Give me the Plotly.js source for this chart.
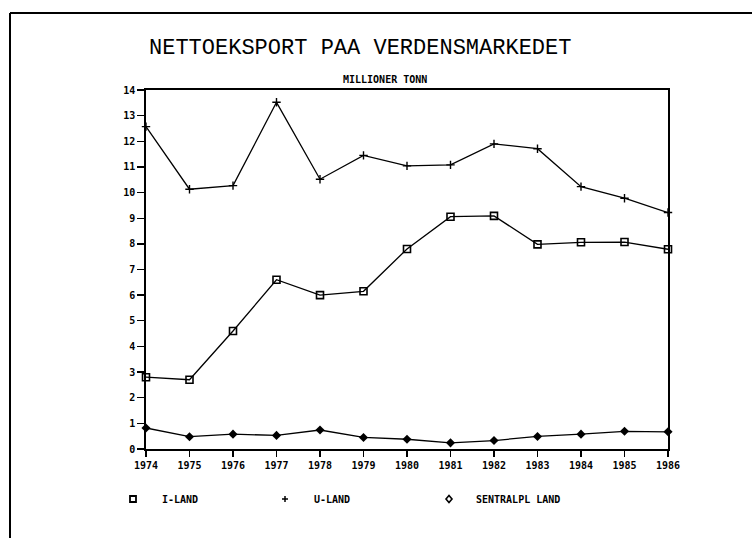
<!DOCTYPE html>
<html>
<head>
<meta charset="utf-8">
<script src="https://cdn.plot.ly/plotly-3.0.1.min.js"></script>
<style>html,body{margin:0;padding:0;background:#fff;}#chart{width:752px;height:538px;}</style>
</head>
<body>
<div id="chart"></div>
<script>
const years = [1974,1975,1976,1977,1978,1979,1980,1981,1982,1983,1984,1985,1986];
const yearLabels = ["1974","1975","1976","1977","1978","1979","1980","1981","1982","1983","1984","1985","1986"];
const iLand = [2.8,2.7,4.6,6.6,6.0,6.15,7.8,9.06,9.09,7.98,8.06,8.07,7.79];
const uLand = [12.57,10.13,10.27,13.52,10.52,11.45,11.04,11.08,11.9,11.71,10.23,9.78,9.22];
const sentralLand = [0.82,0.48,0.58,0.53,0.74,0.45,0.38,0.24,0.33,0.49,0.58,0.69,0.67];
const yTicks = [0,1,2,3,4,5,6,7,8,9,10,11,12,13,14];
const yTickLabels = ["0","1","2","3","4","5","6","7","8","9","10","11","12","13","14"];
const titleText = "NETTOEKSPORT PAA VERDENSMARKEDET";
const subtitleText = "MILLIONER TONN";
const legendNames = ["I-LAND","U-LAND","SENTRALPL LAND"];

const W = 752, H = 538;
const M = {l:146, r:84, t:90, b:89};
const PW = W - M.l - M.r, PH = H - M.t - M.b;
const px = x => (x - M.l) / PW;
const py = y => (H - M.b - y) / PH;

const lineStyle = {color:'#000', width:1.3};
const traces = [
  {x:years, y:uLand, mode:'lines+markers', name:legendNames[1], line:lineStyle, cliponaxis:false,
   marker:{symbol:'cross-thin', size:6, line:{color:'#000', width:1.4}, color:'#000'}},
  {x:years, y:iLand, mode:'lines+markers', name:legendNames[0], line:lineStyle, cliponaxis:false,
   marker:{symbol:'square-open', size:7, color:'#000', line:{color:'#000', width:1.6}}},
  {x:years, y:sentralLand, mode:'lines+markers', name:legendNames[2], line:lineStyle, cliponaxis:false,
   marker:{symbol:'diamond', size:7, color:'#000'}}
];

const tickFont = {family:'DejaVu Sans Mono', size:10, color:'#000', weight:'bold'};
const legY = 499;
const shapes = [
  {type:'line', xref:'paper', yref:'paper', x0:px(10), x1:px(752), y0:py(13), y1:py(13), line:{color:'#000', width:2}},
  {type:'line', xref:'paper', yref:'paper', x0:px(10), x1:px(10), y0:py(13), y1:py(538), line:{color:'#000', width:2}},
  {type:'rect', xref:'paper', yref:'paper', x0:px(130), x1:px(136), y0:py(legY-3), y1:py(legY+3), line:{color:'#000', width:1.8}},
  {type:'line', xref:'paper', yref:'paper', x0:px(282), x1:px(288), y0:py(legY), y1:py(legY), line:{color:'#000', width:1.5}},
  {type:'line', xref:'paper', yref:'paper', x0:px(285), x1:px(285), y0:py(legY-3), y1:py(legY+3), line:{color:'#000', width:1.5}},
  {type:'path', xref:'paper', yref:'paper',
   path:`M ${px(446)} ${py(legY)} L ${px(449)} ${py(legY-3.5)} L ${px(452)} ${py(legY)} L ${px(449)} ${py(legY+3.5)} Z`,
   line:{color:'#000', width:1.6}}
];

const annotations = [
  {text:titleText, xref:'paper', yref:'paper', x:px(360), y:py(48), xanchor:'center', yanchor:'middle',
   showarrow:false, font:{family:'Liberation Mono', size:22, color:'#000'}},
  {text:subtitleText, xref:'paper', yref:'paper', x:px(385), y:py(79), xanchor:'center', yanchor:'middle',
   showarrow:false, font:{family:'DejaVu Sans Mono', size:10, color:'#000', weight:'bold'}},
  {text:legendNames[0], xref:'paper', yref:'paper', x:px(160), y:py(legY), xanchor:'left', yanchor:'middle',
   showarrow:false, font:{family:'DejaVu Sans Mono', size:10, color:'#000', weight:'bold'}},
  {text:legendNames[1], xref:'paper', yref:'paper', x:px(312), y:py(legY), xanchor:'left', yanchor:'middle',
   showarrow:false, font:{family:'DejaVu Sans Mono', size:10, color:'#000', weight:'bold'}},
  {text:legendNames[2], xref:'paper', yref:'paper', x:px(474), y:py(legY), xanchor:'left', yanchor:'middle',
   showarrow:false, font:{family:'DejaVu Sans Mono', size:10, color:'#000', weight:'bold'}}
];

const layout = {
  width:W, height:H, margin:M, showlegend:false,
  paper_bgcolor:'#fff', plot_bgcolor:'#fff',
  xaxis:{range:[1974,1986], tickvals:years, ticktext:yearLabels, ticks:'outside', ticklen:6, tickwidth:1.3,
    tickcolor:'#000', showline:true, linecolor:'#000', linewidth:1.6, mirror:true, showgrid:false, zeroline:false,
    tickfont:tickFont, fixedrange:true},
  yaxis:{range:[0,14], tickvals:yTicks, ticktext:yTickLabels, ticks:'outside', ticklen:7, tickwidth:1.3,
    tickcolor:'#000', showline:true, linecolor:'#000', linewidth:1.6, mirror:true, showgrid:false, zeroline:false,
    tickfont:tickFont, fixedrange:true},
  shapes:shapes, annotations:annotations
};

Plotly.newPlot('chart', traces, layout, {displayModeBar:false, staticPlot:true});
</script>
</body>
</html>
